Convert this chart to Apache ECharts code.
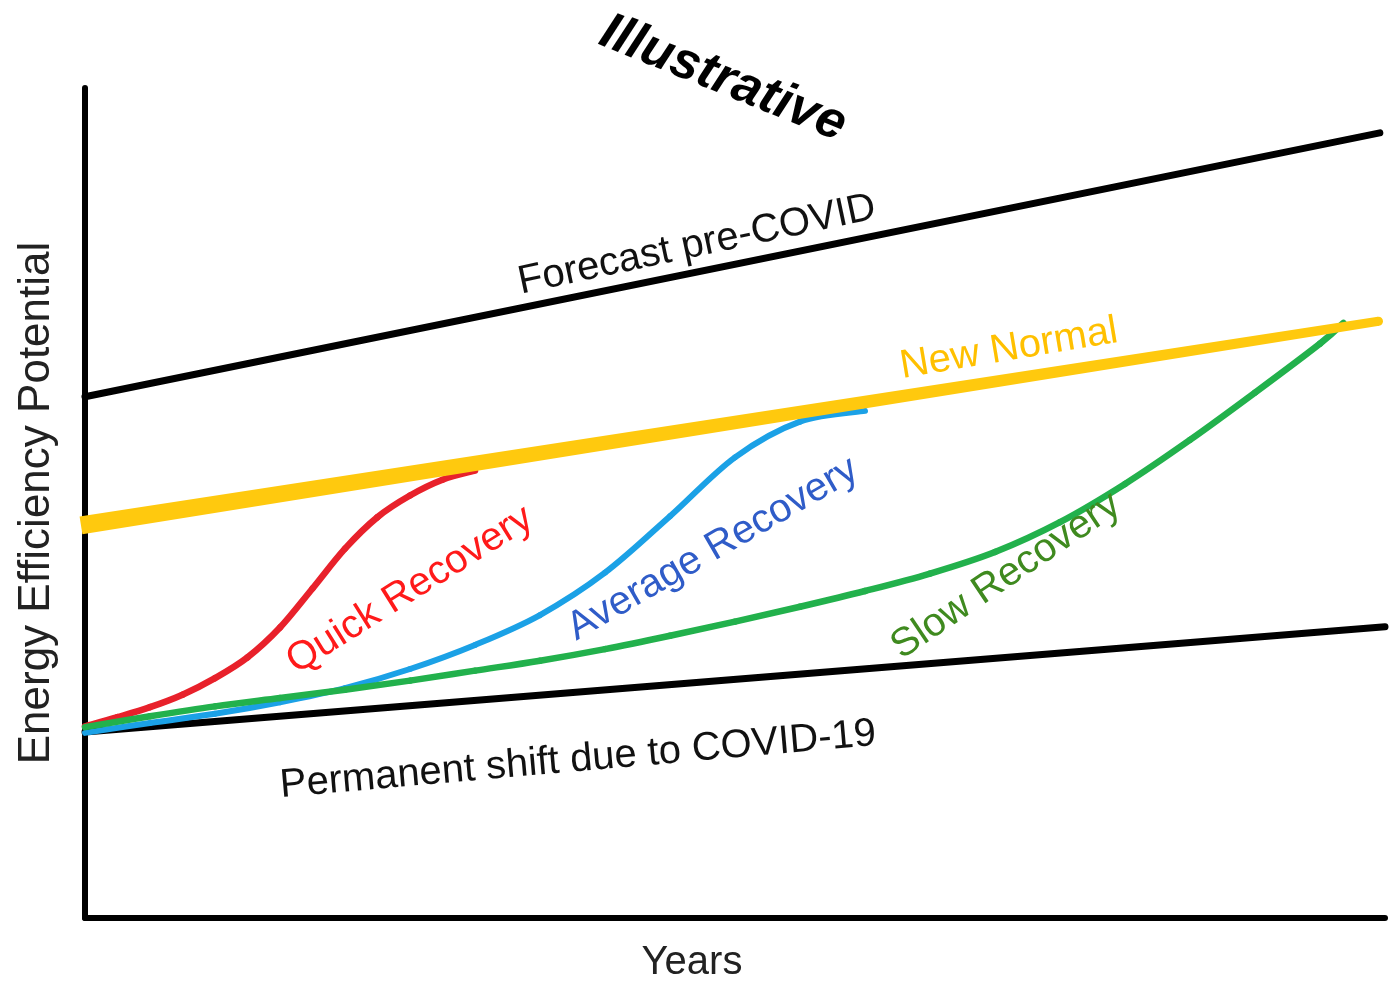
<!DOCTYPE html>
<html>
<head>
<meta charset="utf-8">
<title>Energy Efficiency Potential - Illustrative</title>
<script src="https://cdn.jsdelivr.net/npm/echarts@6/dist/echarts.min.js"></script>
<style>
  html, body { margin: 0; padding: 0; background: #fff; }
  #chart { width: 1396px; height: 983px; }
</style>
</head>
<body>
<div id="chart"></div>
<script>
// values, x = years (0-100), y = potential (0-100)
const forecastX = [0, 99.6]
const forecastY = [62.8, 94.6]
const permanentX = [0, 100]
const permanentY = [22.4, 35.1]
const newNormalX = [0, 99.5]
const newNormalY = [47.3, 71.9]
const quickX = [0, 2.5, 5, 7.5, 10, 12.5, 15, 17.5, 20, 22.5, 25, 27.5, 30]
const quickY = [23.1, 24.2, 25.4, 26.9, 28.9, 31.4, 35.0, 39.7, 44.5, 48.3, 50.9, 52.8, 53.9]
const averageX = [0, 5, 10, 15, 20, 25, 30, 35, 40, 45, 50, 55, 60]
const averageY = [22.3, 23.5, 24.6, 26.0, 27.7, 30.0, 32.9, 36.5, 41.6, 48.4, 55.5, 59.8, 61.1]
const slowX = [0, 5, 10, 15, 20, 25, 30, 35, 40, 45, 50, 55, 60, 65, 70, 75, 80, 85, 90, 95, 96.8]
const slowY = [23.0, 24.3, 25.5, 26.5, 27.5, 28.6, 29.8, 31.0, 32.4, 34.0, 35.7, 37.5, 39.4, 41.5, 44.1, 47.7, 52.3, 57.6, 63.3, 69.2, 71.7]

const zip = (xs, ys) => xs.map((x, i) => [x, ys[i]])
const FONT = '"Liberation Sans", Arial, sans-serif'

const chart = echarts.init(document.getElementById('chart'))

function label(text, x, y, deg, color, size, weight) {
  return {
    type: 'text',
    x: x,
    y: y,
    rotation: deg * Math.PI / 180,
    z: 100,
    style: {
      text: text,
      fill: color,
      font: (weight || 'normal') + ' ' + size + 'px ' + FONT,
      align: 'center',
      verticalAlign: 'middle',
      textAlign: 'center',
      textVerticalAlign: 'middle'
    }
  }
}

// hand-drawn looking curve: catmull-rom through the points, drawn once per series
function curveSeries(name, xs, ys, color, width, z) {
  return {
    name: name,
    type: 'custom',
    data: zip(xs, ys),
    encode: { x: 0, y: 1 },
    z: z,
    renderItem: function (params, api) {
      if (params.dataIndex !== 0) return
      const p = xs.map((x, i) => api.coord([x, ys[i]]))
      const n = p.length
      const children = []
      for (let i = 0; i < n - 1; i++) {
        const p0 = p[Math.max(i - 1, 0)]
        const p1 = p[i]
        const p2 = p[i + 1]
        const p3 = p[Math.min(i + 2, n - 1)]
        children.push({
          type: 'bezierCurve',
          shape: {
            x1: p1[0], y1: p1[1],
            x2: p2[0], y2: p2[1],
            cpx1: p1[0] + (p2[0] - p0[0]) / 6,
            cpy1: p1[1] + (p2[1] - p0[1]) / 6,
            cpx2: p2[0] - (p3[0] - p1[0]) / 6,
            cpy2: p2[1] - (p3[1] - p1[1]) / 6
          },
          style: { stroke: color, lineWidth: width, lineCap: 'round', fill: null }
        })
      }
      return { type: 'group', children: children }
    }
  }
}

const option = {
  animation: false,
  backgroundColor: '#fff',
  grid: { left: 85, right: 11, top: 88, bottom: 65 },
  xAxis: {
    type: 'value',
    min: 0,
    max: 100,
    axisLine: { show: true, lineStyle: { color: '#000', width: 6 } },
    axisTick: { show: false },
    axisLabel: { show: false },
    splitLine: { show: false }
  },
  yAxis: {
    type: 'value',
    min: 0,
    max: 100,
    name: 'Energy Efficiency Potential',
    nameLocation: 'middle',
    nameGap: 26,
    nameTextStyle: { fontFamily: FONT, fontSize: 44, color: '#222' },
    axisLine: { show: true, lineStyle: { color: '#000', width: 6 } },
    axisTick: { show: false },
    axisLabel: { show: false },
    splitLine: { show: false }
  },
  series: [
    {
      name: 'Permanent shift due to COVID-19',
      type: 'line',
      data: zip(permanentX, permanentY),
      symbol: 'none',
      lineStyle: { color: '#000', width: 7, cap: 'round' },
      z: 2
    },
    {
      name: 'Forecast pre-COVID',
      type: 'line',
      data: zip(forecastX, forecastY),
      symbol: 'none',
      lineStyle: { color: '#000', width: 7, cap: 'round' },
      z: 2
    },
    curveSeries('Quick Recovery', quickX, quickY, '#e8212b', 6.5, 3),
    curveSeries('Average Recovery', averageX, averageY, '#1ba1e6', 6, 3),
    curveSeries('Slow Recovery', slowX, slowY, '#22b14c', 6.5, 4),
    {
      // New Normal: a thick marker stroke that thins toward the right
      name: 'New Normal',
      type: 'custom',
      data: [[newNormalX[0], newNormalY[0], newNormalX[1], newNormalY[1]]],
      encode: { x: [0, 2], y: [1, 3] },
      z: 5,
      renderItem: function (params, api) {
        const p0 = api.coord([api.value(0), api.value(1)])
        const p1 = api.coord([api.value(2), api.value(3)])
        const dx = p1[0] - p0[0]
        const dy = p1[1] - p0[1]
        const len = Math.sqrt(dx * dx + dy * dy)
        const nx = -dy / len
        const ny = dx / len
        const w0 = 9
        const w1 = 4.5
        return {
          type: 'group',
          children: [
            {
              type: 'polygon',
              shape: {
                points: [
                  [p0[0] - 4 + nx * w0, p0[1] + ny * w0],
                  [p1[0] + nx * w1, p1[1] + ny * w1],
                  [p1[0] - nx * w1, p1[1] - ny * w1],
                  [p0[0] - 4 - nx * w0, p0[1] - ny * w0]
                ]
              },
              style: { fill: '#ffc90e' }
            },
            {
              type: 'circle',
              shape: { cx: p1[0], cy: p1[1], r: w1 },
              style: { fill: '#ffc90e' }
            }
          ]
        }
      }
    }
  ],
  graphic: [
    label('Illustrative', 723, 79, -22, '#000', 52, 'italic bold'),
    label('Forecast pre-COVID', 697, 245, 12, '#111', 40),
    label('New Normal', 1009, 349, 9.5, '#ffc000', 40),
    label('Quick Recovery', 410, 590, 32, '#ff1a1a', 40),
    label('Average Recovery', 713, 549, 30, '#2f5cc8', 40),
    label('Slow Recovery', 1006, 576, 34, '#3f8a1f', 40),
    label('Permanent shift due to COVID-19', 578, 760, 5, '#111', 40),
    label('Years', 692, 963, 0, '#222', 40)
  ]
}

chart.setOption(option)
</script>
</body>
</html>
